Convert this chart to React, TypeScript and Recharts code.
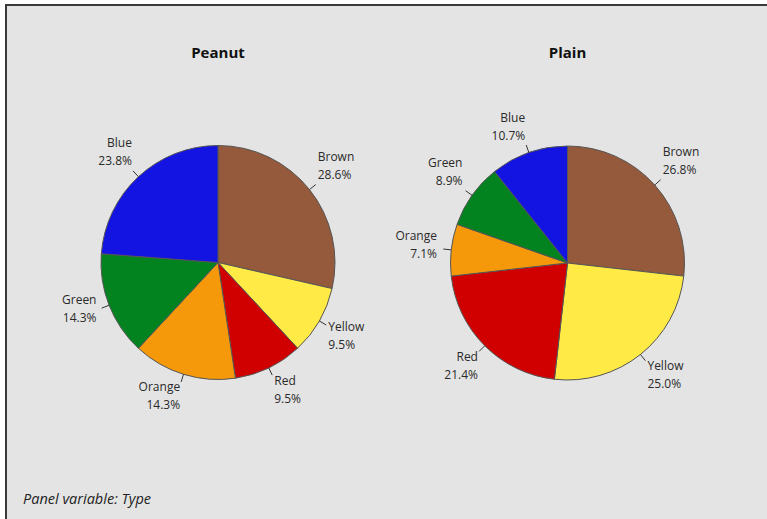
import { PieChart, Pie, Cell } from "recharts";

const colorNames = ["Brown", "Yellow", "Red", "Orange", "Green", "Blue"];
const sliceColors = ["#955a3b", "#ffea46", "#d00000", "#f5990b", "#02831f", "#1414e2"];
const peanutCounts = [6, 2, 2, 3, 3, 5];
const plainCounts = [15, 14, 12, 4, 5, 6];
const panelTitles = ["Peanut", "Plain"];

const RADIAN = Math.PI / 180;
const FONT = "'Open Sans', 'Noto Sans', sans-serif";

const toRows = (counts: number[]) =>
  colorNames.map((name, i) => ({ name, value: counts[i] }));

function SliceLabel(props: any) {
  const { cx, cy, midAngle, outerRadius, name, percent } = props;
  const c = Math.cos(-midAngle * RADIAN);
  const s = Math.sin(-midAngle * RADIAN);
  const sx = cx + outerRadius * c;
  const sy = cy + outerRadius * s;
  const ex = cx + (outerRadius + 8) * c;
  const ey = cy + (outerRadius + 8) * s;
  // s > 0 means the slice points down on screen
  const k = Math.min(1, Math.max(0, (Math.abs(s) - 0.3) / 0.25));
  const mid = ey - 5 + (s > 0 ? 19 * k : -14 * k);
  const anchor = c >= 0 ? "start" : "end";
  const tx = c >= 0 ? ex + 2 : ex - 1 - Math.max(0, Math.abs(c) - 0.7) * 18;
  return (
    <g>
      <line x1={sx} y1={sy} x2={ex} y2={ey} stroke="#333" strokeWidth={1} />
      <text x={tx} y={mid - 9} textAnchor={anchor} dominantBaseline="central"
        fill="#2a2a2a" fontSize={12} fontFamily={FONT}>{name}</text>
      <text x={tx} y={mid + 9} textAnchor={anchor} dominantBaseline="central"
        fill="#2a2a2a" fontSize={12} fontFamily={FONT}>{(percent * 100).toFixed(1)}%</text>
    </g>
  );
}

export default function App() {
  const panels = [
    { title: panelTitles[0], rows: toRows(peanutCounts), cx: 218, cy: 262.5 },
    { title: panelTitles[1], rows: toRows(plainCounts), cx: 567.5, cy: 263 },
  ];
  return (
    <div style={{ position: "fixed", left: 0, top: 0, width: 767, height: 519, background: "#fff", overflow: "hidden" }}>
      <div style={{
        position: "absolute", left: 5, top: 4, width: 762, height: 515,
        background: "#e4e4e4", borderTop: "2px solid #3a3a3a", borderLeft: "2px solid #3a3a3a",
      }} />
      {panels.map((p) => (
        <div key={p.title} style={{
          position: "absolute", left: p.cx - 100, width: 200, top: 42, textAlign: "center",
          fontFamily: FONT, fontWeight: 700, fontSize: 15, color: "#111",
        }}>{p.title}</div>
      ))}
      <div style={{
        position: "absolute", left: 23, top: 489, fontFamily: FONT, fontStyle: "italic",
        fontSize: 14.5, color: "#222",
      }}>Panel variable: Type</div>
      <div style={{ position: "absolute", left: 0, top: 0 }}>
        <PieChart width={767} height={519} margin={{ top: 0, right: 0, bottom: 0, left: 0 }}>
          {panels.map((p) => (
            <Pie
              key={p.title}
              data={p.rows}
              dataKey="value"
              nameKey="name"
              cx={p.cx}
              cy={p.cy}
              outerRadius={117}
              startAngle={90}
              endAngle={-270}
              stroke="#555"
              strokeWidth={1}
              labelLine={false}
              label={SliceLabel}
              isAnimationActive={false}
            >
              {p.rows.map((r, i) => (
                <Cell key={r.name} fill={sliceColors[i]} />
              ))}
            </Pie>
          ))}
        </PieChart>
      </div>
    </div>
  );
}
